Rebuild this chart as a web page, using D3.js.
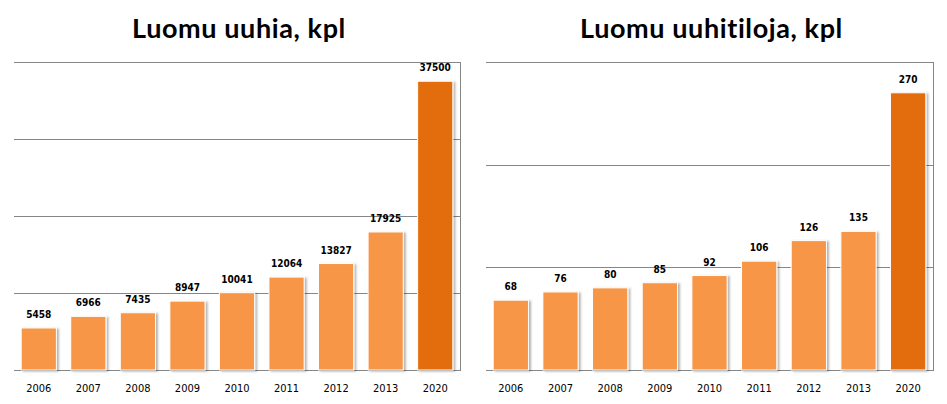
<!DOCTYPE html>
<html><head><meta charset="utf-8">
<script src="https://cdn.jsdelivr.net/npm/d3@7/dist/d3.min.js"></script>
<style>body{margin:0;background:#fff}svg{display:block}</style>
</head><body>
<svg id="c" width="947" height="404"></svg>
<script>
const years = ["2006","2007","2008","2009","2010","2011","2012","2013","2020"];
const uuhia = [5458,6966,7435,8947,10041,12064,13827,17925,37500];
const tilat = [68,76,80,85,92,106,126,135,270];
const uuhiaTicks = [0,10000,20000,30000,40000];
const tilatTicks = [0,100,200,300];
const titles = ["Luomu uuhia, kpl","Luomu uuhitiloja, kpl"];

const svg = d3.select("#c");
const defs = svg.append("defs");
const f = defs.append("filter").attr("id","sh").attr("x","-20%").attr("y","-20%").attr("width","150%").attr("height","140%");
f.append("feDropShadow").attr("dx",2).attr("dy",1).attr("stdDeviation",1.2).attr("flood-color","#000").attr("flood-opacity",0.3);

function chart(x0, x1, values, ticks, title) {
  const top = 62, base = 370;
  const x = d3.scaleBand().domain(years).range([x0, x1]).paddingInner(0.29).paddingOuter(0.145);
  const y = d3.scaleLinear().domain([0, ticks[ticks.length-1]]).range([base, top]);
  const g = svg.append("g");
  g.append("text").attr("x",(x0+x1)/2+2).attr("y",38).attr("text-anchor","middle")
    .attr("font-family","Lato, 'Open Sans', sans-serif").attr("font-weight","bold")
    .attr("font-size",27).attr("letter-spacing",0.6).attr("fill","#000").text(title);
  g.selectAll("line.grid").data(ticks).join("line").attr("class","grid")
    .attr("x1",x0).attr("x2",x1).attr("y1",d=>Math.round(y(d))+0.5).attr("y2",d=>Math.round(y(d))+0.5)
    .attr("stroke","#868686").attr("stroke-width",1);
  g.append("line").attr("x1",x1+0.5).attr("x2",x1+0.5).attr("y1",Math.round(y(ticks[ticks.length-1]))).attr("y2",Math.round(base)+1)
    .attr("stroke","#868686");
  g.selectAll("rect.bar").data(values).join("rect").attr("class","bar")
    .attr("x",(d,i)=>x(years[i])).attr("width",x.bandwidth())
    .attr("y",d=>y(d)).attr("height",d=>base-y(d))
    .attr("fill",(d,i)=>i===values.length-1?"#E36C0A":"#F79646")
    .attr("stroke","#fff").attr("stroke-width",1).attr("filter","url(#sh)");
  g.selectAll("text.val").data(values).join("text").attr("class","val")
    .attr("x",(d,i)=>x(years[i])+x.bandwidth()/2).attr("y",d=>y(d)-10)
    .attr("text-anchor","middle").attr("font-family","'DejaVu Sans Condensed','DejaVu Sans',sans-serif")
    .attr("font-weight","bold").attr("font-size",10).attr("fill","#000").text(d=>d);
  const ax = g.append("g").attr("transform",`translate(0,${base})`)
    .call(d3.axisBottom(x).tickSize(0).tickPadding(14));
  ax.select(".domain").remove();
  ax.selectAll("text").attr("font-family","'DejaVu Sans Condensed','DejaVu Sans',sans-serif").attr("font-size",11).attr("fill","#000");
}
chart(14, 460, uuhia, uuhiaTicks, titles[0]);
chart(486, 933, tilat, tilatTicks, titles[1]);
</script>
</body></html>
